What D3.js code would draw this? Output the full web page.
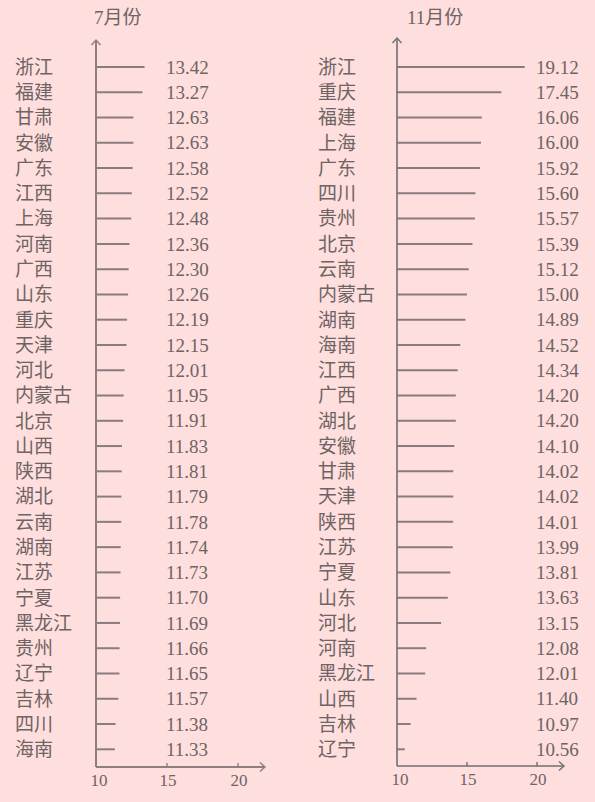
<!DOCTYPE html>
<html><head><meta charset="utf-8">
<script src="https://cdn.jsdelivr.net/npm/d3@7"></script>
<style>
html,body{margin:0;padding:0;background:#FFDEDE;}
svg{display:block;}
</style></head>
<body>
<script>
const julyProvinces = ["浙江","福建","甘肃","安徽","广东","江西","上海","河南","广西","山东","重庆","天津","河北","内蒙古","北京","山西","陕西","湖北","云南","湖南","江苏","宁夏","黑龙江","贵州","辽宁","吉林","四川","海南"];
const julyValues = [13.42,13.27,12.63,12.63,12.58,12.52,12.48,12.36,12.30,12.26,12.19,12.15,12.01,11.95,11.91,11.83,11.81,11.79,11.78,11.74,11.73,11.70,11.69,11.66,11.65,11.57,11.38,11.33];
const novProvinces = ["浙江","重庆","福建","上海","广东","四川","贵州","北京","云南","内蒙古","湖南","海南","江西","广西","湖北","安徽","甘肃","天津","陕西","江苏","宁夏","山东","河北","河南","黑龙江","山西","吉林","辽宁"];
const novValues = [19.12,17.45,16.06,16.00,15.92,15.60,15.57,15.39,15.12,15.00,14.89,14.52,14.34,14.20,14.20,14.10,14.02,14.02,14.01,13.99,13.81,13.63,13.15,12.08,12.01,11.40,10.97,10.56];
const xTicks = [10,15,20];
const titles = ["7月份","11月份"];

const W = 595, H = 802;
const svg = d3.select("body").append("svg").attr("width", W).attr("height", H);
svg.append("rect").attr("width", W).attr("height", H).attr("fill", "#FFDEDE");

const CJK = "'Noto Sans CJK SC','Noto Sans CJK JP',sans-serif";
const SERIF = "'Liberation Serif','DejaVu Serif',serif";
const textColor = "#6e6464";

const panels = [
  {title: titles[0], cats: julyProvinces, vals: julyValues, axisX: 96, x20: 238, xEnd: 265, labelX: 15, numX: 166, titleX: 94, axisColor: "#8d7e80", axisW: 2, yTop: 40, xAxisY: 767},
  {title: titles[1], cats: novProvinces, vals: novValues, axisX: 397, x20: 537, xEnd: 564, labelX: 318, numX: 536, titleX: 407, axisColor: "#707070", axisW: 1.6, yTop: 38, xAxisY: 766}
];

panels.forEach(p => {
  const g = svg.append("g");
  const x = d3.scaleLinear().domain([10, 20]).range([p.axisX, p.x20]);
  const y = d3.scalePoint().domain(p.cats).range([67, 749.3]);

  // title
  g.append("text").attr("x", p.titleX).attr("y", 24)
    .attr("font-family", SERIF + "," + CJK).attr("font-size", 19).attr("fill", textColor)
    .selectAll("tspan").data([p.title]).join("tspan").text(d => d);

  // bars
  g.selectAll("line.bar").data(p.vals).join("line").attr("class", "bar")
    .attr("x1", p.axisX).attr("x2", d => x(d))
    .attr("y1", (d, i) => y(p.cats[i])).attr("y2", (d, i) => y(p.cats[i]))
    .attr("stroke", "#8a7c7e").attr("stroke-width", 2);

  // category labels
  g.selectAll("text.cat").data(p.cats).join("text").attr("class", "cat")
    .attr("x", p.labelX).attr("y", d => y(d)).attr("dy", "0.36em")
    .attr("font-family", CJK).attr("font-size", 19).attr("fill", textColor)
    .text(d => d);

  // value labels
  g.selectAll("text.val").data(p.vals).join("text").attr("class", "val")
    .attr("x", p.numX).attr("y", (d, i) => y(p.cats[i])).attr("dy", "0.35em")
    .attr("font-family", SERIF).attr("font-size", 19).attr("fill", textColor)
    .text(d => d.toFixed(2));

  // y axis line with arrow
  g.append("line").attr("x1", p.axisX).attr("x2", p.axisX).attr("y1", p.yTop).attr("y2", p.xAxisY)
    .attr("stroke", p.axisColor).attr("stroke-width", p.axisW);
  g.append("path").attr("d", `M${p.axisX-4.5},${p.yTop+5} L${p.axisX},${p.yTop} L${p.axisX+4.5},${p.yTop+5}`)
    .attr("fill", "none").attr("stroke", p.axisColor).attr("stroke-width", 1.4);

  // x axis with arrow
  g.append("line").attr("x1", p.axisX).attr("x2", p.xEnd).attr("y1", p.xAxisY).attr("y2", p.xAxisY)
    .attr("stroke", p.axisColor).attr("stroke-width", p.axisW);
  g.append("path").attr("d", `M${p.xEnd-5},${p.xAxisY-4.5} L${p.xEnd},${p.xAxisY} L${p.xEnd-5},${p.xAxisY+4.5}`)
    .attr("fill", "none").attr("stroke", p.axisColor).attr("stroke-width", 1.4);

  // ticks
  g.selectAll("line.tick").data(xTicks.slice(1)).join("line").attr("class", "tick")
    .attr("x1", d => x(d)).attr("x2", d => x(d)).attr("y1", p.xAxisY - 4).attr("y2", p.xAxisY)
    .attr("stroke", p.axisColor).attr("stroke-width", 1.4);
  g.selectAll("text.tl").data(xTicks).join("text").attr("class", "tl")
    .attr("x", d => x(d) + (d === 10 ? 3 : 1)).attr("y", p.xAxisY + 19)
    .attr("text-anchor", "middle")
    .attr("font-family", SERIF).attr("font-size", 17).attr("fill", textColor)
    .text(d => d);
});
</script>
</body></html>
